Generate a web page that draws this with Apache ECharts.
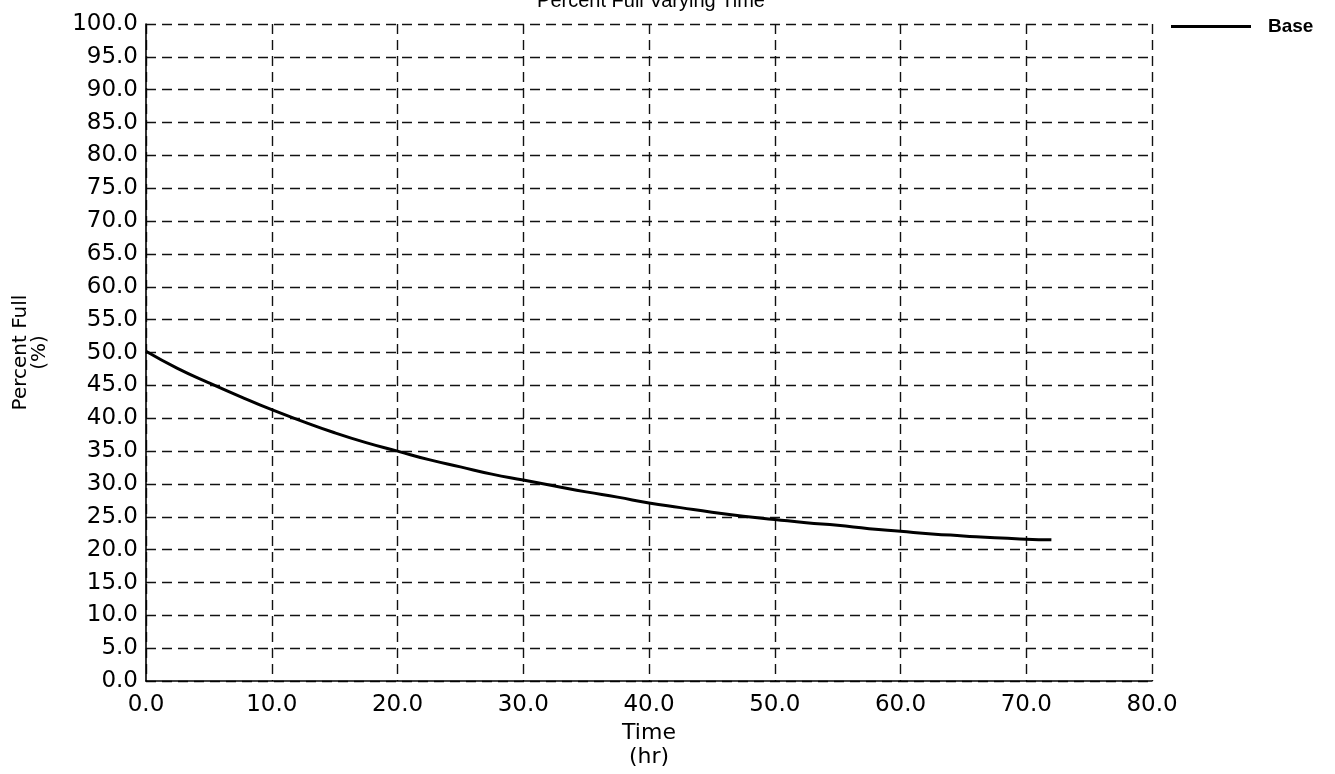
<!DOCTYPE html>
<html>
<head>
<meta charset="utf-8">
<style>
  html, body { margin: 0; padding: 0; background: #ffffff; }
  #chart { width: 1335px; height: 774px; }
</style>
<script src="https://cdn.jsdelivr.net/npm/echarts@6/dist/echarts.min.js"></script>
</head>
<body>
<div id="chart"></div>
<script>
// Elapsed time (hr) and percent full for the base case
const timeHr = [0, 2.5, 5, 7.5, 10, 12.5, 15, 17.5, 20, 22.5, 25, 27.5, 30, 32.5, 35, 37.5,
                40, 42.5, 45, 47.5, 50, 52.5, 55, 57.5, 60, 62.5, 65, 67.5, 70, 72];
const percentFull = [50.2, 47.6, 45.4, 43.3, 41.3, 39.5, 37.8, 36.3, 35.0, 33.7, 32.6, 31.5,
                     30.6, 29.7, 28.8, 28.0, 27.1, 26.4, 25.7, 25.1, 24.6, 24.1, 23.7, 23.2,
                     22.8, 22.4, 22.1, 21.8, 21.6, 21.5];

const seriesName = 'Base';
const titleText = 'Percent Full Varying Time';
const xAxisName = 'Time\n(hr)';
const yAxisName = 'Percent Full\n(%)';

const points = timeHr.map((t, i) => [t, percentFull[i]]);

const SANS = '"Liberation Sans", Arial, sans-serif';
const WIDE = '"DejaVu Sans", Verdana, sans-serif';
const gridDash = { color: '#111', width: 1.4, type: [10, 6] };

const chart = echarts.init(document.getElementById('chart'));
chart.setOption({
  animation: false,
  backgroundColor: '#ffffff',
  title: {
    text: titleText,
    left: 646,
    textAlign: 'center',
    top: -14,
    textStyle: { fontFamily: SANS, fontSize: 20, fontWeight: 'normal', color: '#000' }
  },
  legend: {
    data: [seriesName],
    left: 1166,
    top: 12,
    itemWidth: 80,
    itemHeight: 20,
    icon: 'path://M0,8.5 L80,8.5 L80,11.5 L0,11.5 Z',
    textStyle: { fontFamily: SANS, fontSize: 19, fontWeight: 'bold', color: '#000', padding: [0, 0, 0, 12] }
  },
  grid: { left: 146, right: 183, top: 24, bottom: 86, containLabel: false },
  xAxis: {
    type: 'value',
    min: 0,
    max: 80,
    interval: 10,
    name: xAxisName,
    nameLocation: 'middle',
    nameGap: 31,
    nameTextStyle: { fontFamily: WIDE, fontSize: 22, color: '#000', lineHeight: 24, verticalAlign: 'top' },
    axisLine: { show: true, lineStyle: { color: '#000', width: 1.6 } },
    axisTick: { show: false },
    axisLabel: {
      margin: 12,
      fontFamily: WIDE, fontSize: 23, color: '#000',
      formatter: v => v.toFixed(1)
    },
    splitLine: { show: true, lineStyle: gridDash }
  },
  yAxis: {
    type: 'value',
    min: 0,
    max: 100,
    interval: 5,
    name: yAxisName,
    nameLocation: 'middle',
    nameRotate: 90,
    nameGap: 97,
    nameTextStyle: { fontFamily: WIDE, fontSize: 20, color: '#000', lineHeight: 19 },
    axisLine: { show: true, lineStyle: { color: '#000', width: 1.6 } },
    axisTick: { show: false },
    axisLabel: {
      margin: 8,
      fontFamily: WIDE, fontSize: 23, color: '#000',
      formatter: v => v.toFixed(1)
    },
    splitLine: { show: true, lineStyle: gridDash }
  },
  series: [{
    name: seriesName,
    type: 'line',
    data: points,
    smooth: true,
    showSymbol: false,
    lineStyle: { color: '#000', width: 3 },
    itemStyle: { color: '#000' }
  }]
});
</script>
</body>
</html>
